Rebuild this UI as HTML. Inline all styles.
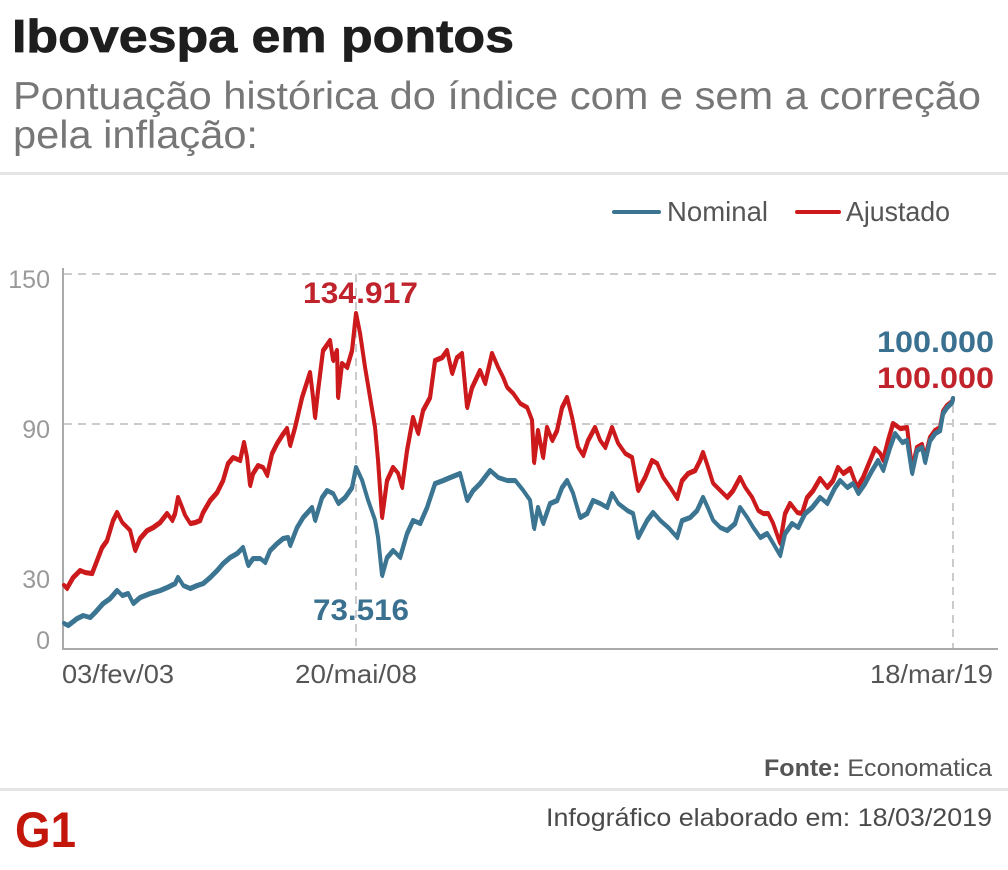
<!DOCTYPE html>
<html>
<head>
<meta charset="utf-8">
<style>
html,body{margin:0;padding:0;background:#fff;}
svg{display:block;}
</style>
</head>
<body>
<svg width="1008" height="870" viewBox="0 0 1008 870" xmlns="http://www.w3.org/2000/svg" font-family="'Liberation Sans', Arial, sans-serif">
  <defs>
    <polyline id="red" fill="none" stroke-linejoin="round" stroke-linecap="round" points="
64,585 66.7,588 73,577 80,570 85,572 92,573 97,560 102,547 107,540 113,520 117,512 122,522 127,527 130,530 135,550 140,538 147,530 153,527 160,522 167,513 172,520 175,513 178,497 182,507 185,515 190,523 195,522 200,520 203,512 210,500 217,492 223,480 228,463 233,457 240,460 244,442 247,457 250,485 253,473 258,465 263,467 267,475 272,453 277,443 282,435 287,428 290,445 295,427 302,397 310,372 313,397 315,417 318,390 323,350 330,340 333,360 337,350 338,397 342,363 347,367 352,350 356,313 360,333 365,367 370,397 375,427 378,460 382,517 387,480 393,467 398,473 402,487 407,450 413,417 418,433 423,410 430,397 435,360 442,357 447,350 452,373 457,357 462,353 467,407 472,387 480,370 485,383 492,353 498,367 503,377 507,387 513,393 520,403 527,407 532,420 534,462 538,430 543,457 547,427 552,440 557,430 562,407 567,397 572,417 578,447 583,455 588,440 595,427 600,440 605,447 612,427 618,443 625,453 632,457 638,490 645,477 652,460 657,463 663,477 670,487 677,498 682,480 688,473 695,470 700,460 703,452 708,467 713,483 720,490 727,497 733,490 740,477 745,487 752,497 758,510 763,513 768,513 773,523 780,543 785,513 790,503 797,512 802,513 807,497 813,490 820,478 827,487 833,480 838,467 843,473 850,468 857,487 863,477 870,460 875,448 880,453 883,460 888,440 893,423 900,428 907,427 912,468 917,447 922,444 925,458 930,437 935,430 940,427 943,411 947,405 952,401 953,398"/>
    <polyline id="blue" fill="none" stroke-linejoin="round" stroke-linecap="round" points="
64,623 68,625 77,618 83,615 90,617 95,612 103,603 110,598 117,590 122,595 128,593 133,603 140,597 150,593 160,590 167,587 175,583 178,577 183,585 190,588 197,585 203,583 210,577 217,570 223,563 230,557 237,553 243,547 248,565 253,558 260,558 265,562 270,550 277,543 283,538 288,537 290,545 297,527 303,517 312,507 315,520 322,497 327,490 333,493 338,503 345,497 352,487 356,467 362,480 368,500 375,520 378,537 382,575 387,557 393,550 400,557 407,533 413,520 420,523 427,507 435,483 443,480 450,477 460,473 467,500 473,490 480,483 490,470 498,477 507,480 515,480 523,490 530,500 534,528 538,507 543,523 550,503 557,500 562,487 567,480 573,493 580,517 587,513 593,500 600,503 607,507 612,493 618,503 627,510 633,513 638,537 647,520 653,512 660,520 668,527 677,537 682,520 690,517 697,510 703,497 708,508 713,520 720,527 727,530 735,523 740,507 747,517 753,527 760,537 767,533 773,543 780,555 785,533 792,523 798,527 805,513 812,507 820,497 827,503 835,487 840,480 847,487 853,483 858,493 865,483 872,470 878,460 883,470 890,447 895,433 902,442 907,440 912,473 917,450 922,447 925,462 930,440 935,433 940,430 943,413 947,407 952,402 953,398"/>
  </defs>
  <rect x="0" y="0" width="1008" height="870" fill="#ffffff"/>

  <!-- Title -->
  <text x="12" y="52" font-size="46" font-weight="bold" fill="#1e1e1e" stroke="#1e1e1e" stroke-width="0.8" textLength="502" lengthAdjust="spacingAndGlyphs">Ibovespa em pontos</text>
  <text x="13" y="109" font-size="39" fill="#777777" textLength="968" lengthAdjust="spacingAndGlyphs">Pontuação histórica do índice com e sem a correção</text>
  <text x="13" y="148" font-size="39" fill="#777777" textLength="245" lengthAdjust="spacingAndGlyphs">pela inflação:</text>

  <!-- separator -->
  <rect x="0" y="172" width="1008" height="3" fill="#e4e4e4"/>

  <!-- Legend -->
  <line x1="614" y1="212" x2="659" y2="212" stroke="#3b7592" stroke-width="4" stroke-linecap="round"/>
  <text x="667" y="221" font-size="28" fill="#555555" textLength="101" lengthAdjust="spacingAndGlyphs">Nominal</text>
  <line x1="797" y1="212" x2="839" y2="212" stroke="#cc1a1c" stroke-width="4" stroke-linecap="round"/>
  <text x="846" y="221" font-size="28" fill="#555555" textLength="104" lengthAdjust="spacingAndGlyphs">Ajustado</text>

  <!-- gridlines -->
  <line x1="64" y1="274" x2="998" y2="274" stroke="#cccccc" stroke-width="2" stroke-dasharray="8,6"/>
  <line x1="64" y1="424" x2="998" y2="424" stroke="#cccccc" stroke-width="2" stroke-dasharray="8,6"/>
  <!-- vertical reference lines -->
  <line x1="356" y1="274" x2="356" y2="648" stroke="#cccccc" stroke-width="2" stroke-dasharray="8,6"/>
  <line x1="953" y1="405" x2="953" y2="648" stroke="#cccccc" stroke-width="2" stroke-dasharray="8,6"/>

  <!-- axes -->
  <line x1="63" y1="268" x2="63" y2="650" stroke="#aaaaaa" stroke-width="2"/>
  <line x1="62" y1="649" x2="998" y2="649" stroke="#aaaaaa" stroke-width="2"/>

  <!-- y labels -->
  <text x="50" y="288" font-size="25" fill="#9a9a9a" text-anchor="end">150</text>
  <text x="50" y="438" font-size="25" fill="#9a9a9a" text-anchor="end">90</text>
  <text x="50" y="588" font-size="25" fill="#9a9a9a" text-anchor="end">30</text>
  <text x="50" y="649" font-size="25" fill="#9a9a9a" text-anchor="end">0</text>

  <!-- x labels -->
  <text x="62" y="683" font-size="26" fill="#555555" textLength="112" lengthAdjust="spacingAndGlyphs">03/fev/03</text>
  <text x="295" y="683" font-size="26" fill="#555555" textLength="122" lengthAdjust="spacingAndGlyphs">20/mai/08</text>
  <text x="870" y="683" font-size="26" fill="#555555" textLength="123" lengthAdjust="spacingAndGlyphs">18/mar/19</text>

  <!-- Ajustado series (red) -->
  <use href="#red" stroke="#cc1a1c" stroke-width="4"/>
  <use href="#red" stroke="#cc1a1c" stroke-width="3" transform="translate(0.5,1.6)"/>

  <!-- Nominal series (blue) -->
  <use href="#blue" stroke="#3b7592" stroke-width="4"/>
  <use href="#blue" stroke="#3b7592" stroke-width="3" transform="translate(0.5,1.6)"/>

  <!-- annotations -->
  <text x="303" y="303" font-size="30" font-weight="bold" fill="#c0232b" textLength="115" lengthAdjust="spacingAndGlyphs">134.917</text>
  <text x="313" y="620" font-size="30" font-weight="bold" fill="#3a7090" textLength="96" lengthAdjust="spacingAndGlyphs">73.516</text>
  <text x="877" y="352" font-size="30" font-weight="bold" fill="#3a7090" textLength="117" lengthAdjust="spacingAndGlyphs">100.000</text>
  <text x="877" y="388" font-size="30" font-weight="bold" fill="#c0232b" textLength="117" lengthAdjust="spacingAndGlyphs">100.000</text>

  <!-- footer -->
  <text x="764" y="776" font-size="24" fill="#555555" textLength="228" lengthAdjust="spacingAndGlyphs"><tspan font-weight="bold">Fonte:</tspan> Economatica</text>
  <rect x="0" y="788" width="1008" height="3" fill="#e4e4e4"/>
  <text x="546" y="826" font-size="25" fill="#4a4a4a" textLength="446" lengthAdjust="spacingAndGlyphs">Infográfico elaborado em: 18/03/2019</text>

  <!-- G1 logo -->
  <text x="15" y="847" font-size="50" font-weight="bold" fill="#c4170c" textLength="61" lengthAdjust="spacingAndGlyphs">G1</text>
</svg>
</body>
</html>
